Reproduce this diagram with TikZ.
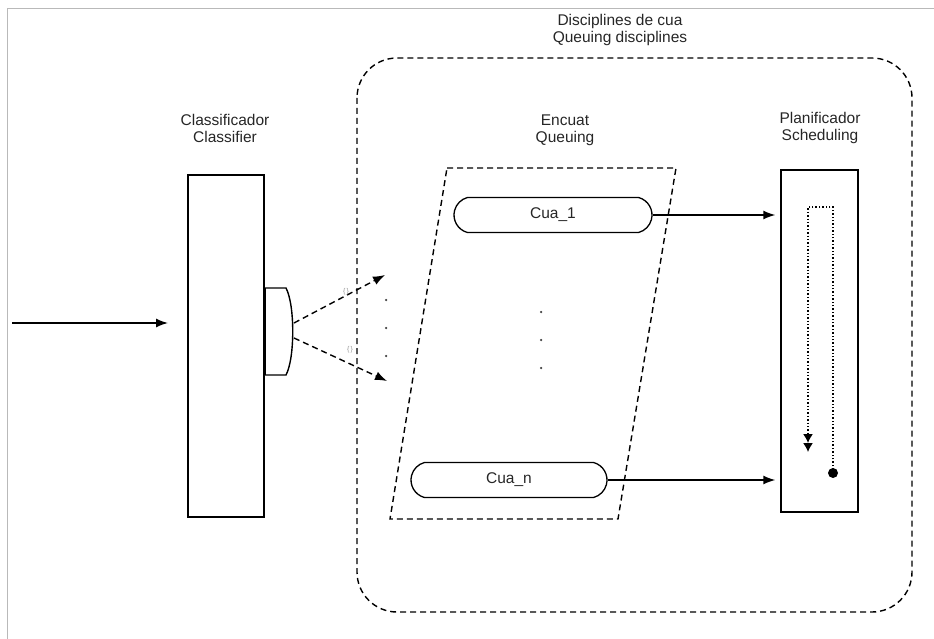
\documentclass[tikz,border=0pt]{standalone}
\usepackage{fontspec}
\setmainfont{Liberation Sans}
\usepackage{tikz}
\usetikzlibrary{shapes.misc, arrows.meta, positioning, calc}
\tikzset{
  lbl/.style={align=center, font=\fontsize{15.5}{17}\selectfont, text=black!85, inner sep=0pt},
  blockbox/.style={draw, line width=1.4pt, minimum width=76pt, minimum height=342pt, inner sep=0pt},
  queuebox/.style={draw, line width=1.3pt, rounded rectangle, rounded rectangle arc length=150, minimum height=35pt, inner sep=0pt, font=\fontsize{15.5}{17}\selectfont, text=black!85},
  flow/.style={line width=1.4pt, -{Latex[length=12pt, width=9pt]}},
  dash line/.style={line width=1.4pt, dash pattern=on 6pt off 4pt},
  dotpt/.style={circle, fill=black!75, inner sep=0pt, minimum size=2.5pt}
}

\begin{document}
\begin{tikzpicture}[x=1pt, y=-1pt]
  \useasboundingbox (0,0) rectangle (934,639);
  \draw[gray!55, line width=1pt] (7,639) -- (7,9) -- (934,9);

  \node[lbl] (title) at (620,30) {Disciplines de cua\\Queuing disciplines};
  \draw[dash line, rounded corners=40pt] (357,58) rectangle (912,612);

  \node[lbl] (clslbl) at (225,128) {Classificador\\Classifier};
  \node[blockbox] (cls) at (226,346) {};
  \coordinate (in) at (12,323);
  \coordinate (inend) at (168,323);
  \draw[flow] (in) -- (inend);
  \draw[line width=1.4pt, fill=white] (264,288) -- (286,288) .. controls (295,305) and (295,358) .. (286,375) -- (264,375) -- cycle;
  \draw[line width=2.4pt] (265,288) -- (265,375);

  \coordinate (up0) at (294,323);
  \coordinate (up1) at (385,275);
  \coordinate (dn0) at (294,338);
  \coordinate (dn1) at (387,381);
  \draw[flow, dash line] (up0) -- (up1);
  \draw[flow, dash line] (dn0) -- (dn1);
  \node[font=\scriptsize, text=gray!80] (br1) at (346,292) {\{\,\}};
  \node[font=\scriptsize, text=gray!80] (br2) at (350,350) {\{\,\}};
  \foreach \y in {300,328,356} \node[dotpt] at (386,\y) {};

  \node[lbl] (enclbl) at (565,130) {Encuat\\Queuing};
  \coordinate (pa) at (447,168);
  \coordinate (pb) at (676,168);
  \coordinate (pc) at (618,519);
  \coordinate (pd) at (390,519);
  \draw[dash line] (pa) -- (pb) -- (pc) -- (pd) -- cycle;
  \node[queuebox, minimum width=198pt] (q1) at (553,215) {Cua\_1};
  \node[queuebox, minimum width=196pt] (qn) at (509,480) {Cua\_n};
  \foreach \y in {312,340,368} \node[dotpt] at (541,\y) {};

  \node[lbl] (schlbl) at (820,128) {Planificador\\Scheduling};
  \node[blockbox, minimum width=77pt] (sch) at (819.5,341) {};
  \draw[flow, shorten >=5pt] (q1.east) -- (q1.east -| sch.west);
  \draw[flow, shorten >=5pt] (qn.east) -- (qn.east -| sch.west);

  \node[circle, fill, inner sep=0pt, minimum size=10pt] (rr) at (833,473) {};
  \draw[line width=1.4pt, dotted, -{Latex[length=9pt, width=10pt] Latex[length=9pt, width=10pt]}]
    (rr.center) -- (833,207) -- (808,207) -- (808,452);
\end{tikzpicture}
\end{document}
